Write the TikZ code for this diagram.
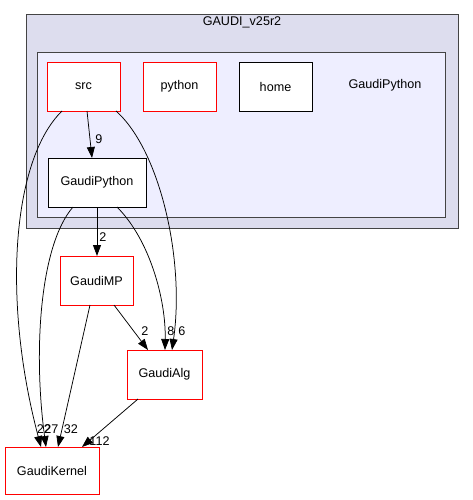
\documentclass[tikz,border=0pt]{standalone}
\usepackage{fontspec}
\setmainfont{Liberation Sans}
\usetikzlibrary{arrows.meta}
\definecolor{outerfill}{HTML}{DDDDEE}
\definecolor{innerfill}{HTML}{EEEEFF}
\definecolor{boxline}{HTML}{444444}
\definecolor{redline}{HTML}{FF0000}
\begin{document}
\begin{tikzpicture}[x=1pt,y=-1pt,
  every node/.style={font=\fontsize{12.6}{14}\selectfont, inner sep=0pt},
  dirred/.style={draw=redline, fill=white, line width=0.8pt, minimum width=73pt, minimum height=49pt},
  dirblack/.style={draw=black, fill=white, line width=0.8pt, minimum width=73pt, minimum height=49pt},
  dep/.style={draw=black, line width=0.75pt, -{Triangle[length=11pt,width=8pt]}},
  lbl/.style={font=\fontsize{12.6}{14}\selectfont}]
\useasboundingbox (0,0) rectangle (472,500);
\fill[white] (0,0) rectangle (472,500);
% clusters
\draw[boxline, fill=outerfill, line width=0.8pt] (26,14) rectangle (458,228);
\node (title) at (242,22) {GAUDI\_v25r2};
\draw[boxline, fill=innerfill, line width=0.8pt] (37,52) rectangle (445,217);
\node (gplabel) at (385,85) {GaudiPython};
% nodes
\node[dirred] (src) at (83.5,86.5) {src};
\node[dirred] (python) at (179.5,86.5) {python};
\node[dirblack] (home) at (275.5,86.5) {home};
\node[dirblack, minimum width=98pt] (gp) at (97,182.5) {GaudiPython};
\node[dirred] (mp) at (96.5,280.5) {GaudiMP};
\node[dirred, minimum width=75pt] (alg) at (164.5,374.5) {GaudiAlg};
\node[dirred, minimum width=94pt, minimum height=47pt] (kernel) at (52,470.5) {GaudiKernel};
% anchor coordinates
\coordinate (srcA) at (62,111);
\coordinate (srcB) at (87,111);
\coordinate (srcC) at (116,111);
\coordinate (gpA) at (73,207);
\coordinate (gpB) at (97,207);
\coordinate (gpC) at (117,207);
\coordinate (mpA) at (90,305);
\coordinate (mpB) at (114,305);
\coordinate (algA) at (138,399);
\coordinate (k1) at (41,447);
\coordinate (k2) at (46,447);
\coordinate (k3) at (58,447);
\coordinate (k4) at (82,447);
\coordinate (a1) at (148,350);
\coordinate (a2) at (165,350);
\coordinate (a3) at (172,350);
\coordinate (gptop) at (92,158);
\coordinate (mptop) at (97,256);
% edges
\draw[dep] (srcB) -- (gptop);
\node[lbl] (l9) at (99,139) {9};
\draw[dep] (srcA) .. controls (12,160) and (2,300) .. (k1);
\draw[dep] (srcC) .. controls (160,150) and (185,260) .. (a3);
\draw[dep] (gpA) .. controls (40,245) and (33,350) .. (k2);
\draw[dep] (gpB) -- (mptop);
\node[lbl] (l2a) at (103,237) {2};
\draw[dep] (gpC) .. controls (150,240) and (166,300) .. (a2);
\draw[dep] (mpA) -- (k3);
\draw[dep] (mpB) -- (a1);
\draw[dep] (algA) -- (k4);
\node[lbl] (l22) at (44,429) {22};
\node[lbl] (l27) at (51.5,429) {27};
\node[lbl] (l32) at (71,429) {32};
\node[lbl] (l112) at (99.5,441) {112};
\node[lbl] (l2b) at (145,331) {2};
\node[lbl] (l8) at (171,331) {8};
\node[lbl] (l6) at (182,331) {6};
\end{tikzpicture}
\end{document}
